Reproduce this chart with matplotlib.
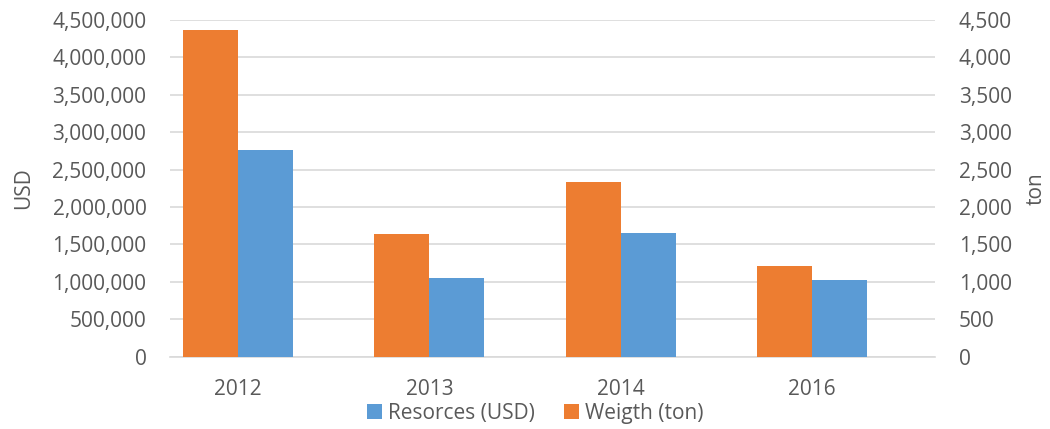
import matplotlib
matplotlib.use("Agg")
import matplotlib.pyplot as plt
from matplotlib.ticker import FuncFormatter, MultipleLocator
import numpy as np

years = ['2012', '2013', '2014', '2016']
resources_usd = [2766000, 1056000, 1657000, 1025000]
weight_ton = [4366, 1644, 2331, 1216]

plt.rcParams['font.family'] = ['Open Sans', 'DejaVu Sans']
grey = '#595959'
blue = '#5B9BD5'
orange = '#ED7D31'
fs = 15

fig = plt.figure(figsize=(10.5, 4.29), dpi=100)
ax = fig.add_axes([0.1619, 0.1685, 0.7286, 0.7849])
ax2 = ax.twinx()

x = np.arange(len(years))
w = 0.2876

# 左轴: USD, 右轴: ton
ax.bar(x + w / 2, resources_usd, width=w, color=blue, label='Resorces (USD)', zorder=3)
ax2.bar(x - w / 2, weight_ton, width=w, color=orange, label='Weigth (ton)', zorder=3)

ax.set_xlim(-0.3556, 3.643)
ax.set_ylim(0, 4500000)
ax2.set_ylim(0, 4500)
ax.yaxis.set_major_locator(MultipleLocator(500000))
ax2.yaxis.set_major_locator(MultipleLocator(500))
ax.yaxis.set_major_formatter(FuncFormatter(lambda v, p: f'{int(v):,}'))
ax2.yaxis.set_major_formatter(FuncFormatter(lambda v, p: f'{int(v):,}'))

ax.set_xticks(x)
ax.set_xticklabels(years)
ax.grid(axis='y', color='#D9D9D9', linewidth=1.2, zorder=0)
ax.set_axisbelow(True)

for a in (ax, ax2):
    for s in a.spines.values():
        s.set_visible(False)
    a.tick_params(length=0, labelsize=fs, colors=grey)
ax.spines['bottom'].set_visible(True)
ax.spines['bottom'].set_color('#D9D9D9')
ax.spines['bottom'].set_linewidth(1.2)
ax.tick_params(axis='y', pad=17)
ax2.tick_params(axis='y', pad=17)
ax.tick_params(axis='x', pad=16)

ax.set_ylabel('USD', fontsize=fs, color=grey, labelpad=13)
ax2.set_ylabel('ton', fontsize=fs, color=grey, labelpad=10)

h1, l1 = ax.get_legend_handles_labels()
h2, l2 = ax2.get_legend_handles_labels()
fig.legend(h1 + h2, l1 + l2, loc='center', bbox_to_anchor=(0.51, 0.037), ncol=2,
           frameon=False, fontsize=fs, labelcolor=grey, handlelength=0.7, handleheight=0.7,
           handletextpad=0.3, columnspacing=1.4)

plt.savefig('out.png', dpi=100)
